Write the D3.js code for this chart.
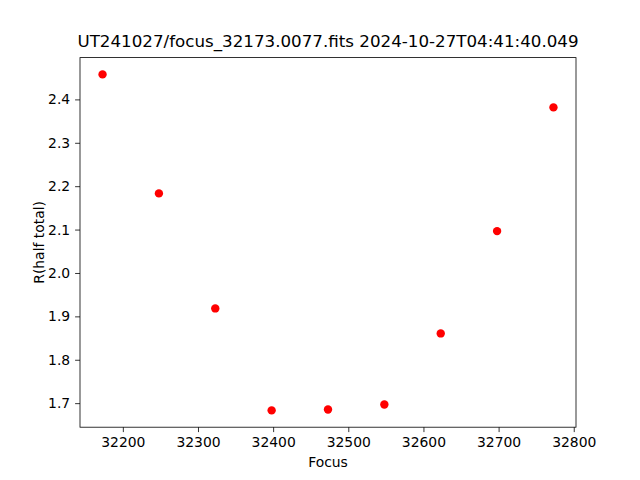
<!DOCTYPE html>
<meta charset="utf-8">
<script src="https://d3js.org/d3.v7.min.js"></script>
<style>
  body { margin: 0; background: #fff; }
  text { font-family: "DejaVu Sans", sans-serif; fill: #000; }
</style>
<div id="my_dataviz"></div>
<script>

// data
var focus = [32173, 32248, 32323, 32398, 32473, 32548, 32623, 32698, 32773];
var rHalf = [2.4576, 2.1834, 1.9183, 1.6833, 1.6855, 1.6970, 1.8607, 2.0965, 2.3816];
var xTicks = [32200, 32300, 32400, 32500, 32600, 32700, 32800];
var yTicks = [1.7, 1.8, 1.9, 2.0, 2.1, 2.2, 2.3, 2.4];
var title = "UT241027/focus_32173.0077.fits 2024-10-27T04:41:40.049";

// matplotlib default axes box in a 640x480 figure
var margin = {top: 57.6, right: 64, bottom: 52.8, left: 80},
    width = 640 - margin.left - margin.right,
    height = 480 - margin.top - margin.bottom;

var svg = d3.select("#my_dataviz")
  .append("svg")
    .attr("width", 640)
    .attr("height", 480)
  .append("g")
    .attr("transform", "translate(" + margin.left + "," + margin.top + ")");

// 5% padding like matplotlib autoscale
var xe = d3.extent(focus), xp = (xe[1] - xe[0]) * 0.05;
var ye = d3.extent(rHalf), yp = (ye[1] - ye[0]) * 0.05;

var x = d3.scaleLinear().domain([xe[0] - xp, xe[1] + xp]).range([0, width]);
var y = d3.scaleLinear().domain([ye[0] - yp, ye[1] + yp]).range([height, 0]);

var xAxis = svg.append("g")
  .attr("transform", "translate(0," + height + ")")
  .call(d3.axisBottom(x).tickValues(xTicks).tickFormat(d3.format("d")).tickSize(4.9).tickPadding(4.9));

var yAxis = svg.append("g")
  .call(d3.axisLeft(y).tickValues(yTicks).tickFormat(d3.format(".1f")).tickSize(4.9).tickPadding(4.9));

[xAxis, yAxis].forEach(function(a) {
  a.select(".domain").remove();
  a.selectAll("line").attr("stroke", "#000").attr("stroke-width", 0.8);
  a.selectAll("text").style("font-size", "13.9px").style("font-family", "DejaVu Sans");
});

// frame
svg.append("rect")
  .attr("width", width)
  .attr("height", height)
  .attr("fill", "none")
  .attr("stroke", "#000")
  .attr("stroke-width", 0.8);

// points
svg.selectAll("myDots")
  .data(focus)
  .enter()
  .append("circle")
    .attr("cx", function(d) { return x(d); })
    .attr("cy", function(d, i) { return y(rHalf[i]); })
    .attr("r", 4.2)
    .attr("fill", "#ff0000");

// title
svg.append("text")
  .attr("x", width / 2)
  .attr("y", -10.6)
  .attr("text-anchor", "middle")
  .style("font-size", "16.7px")
  .text(title);

// x label
svg.append("text")
  .attr("x", width / 2)
  .attr("y", height + 39.5)
  .attr("text-anchor", "middle")
  .style("font-size", "13.9px")
  .text("Focus");

// y label
svg.append("text")
  .attr("transform", "rotate(-90)")
  .attr("x", -height / 2)
  .attr("y", -36.5)
  .attr("text-anchor", "middle")
  .style("font-size", "13.9px")
  .text("R(half total)");

</script>
